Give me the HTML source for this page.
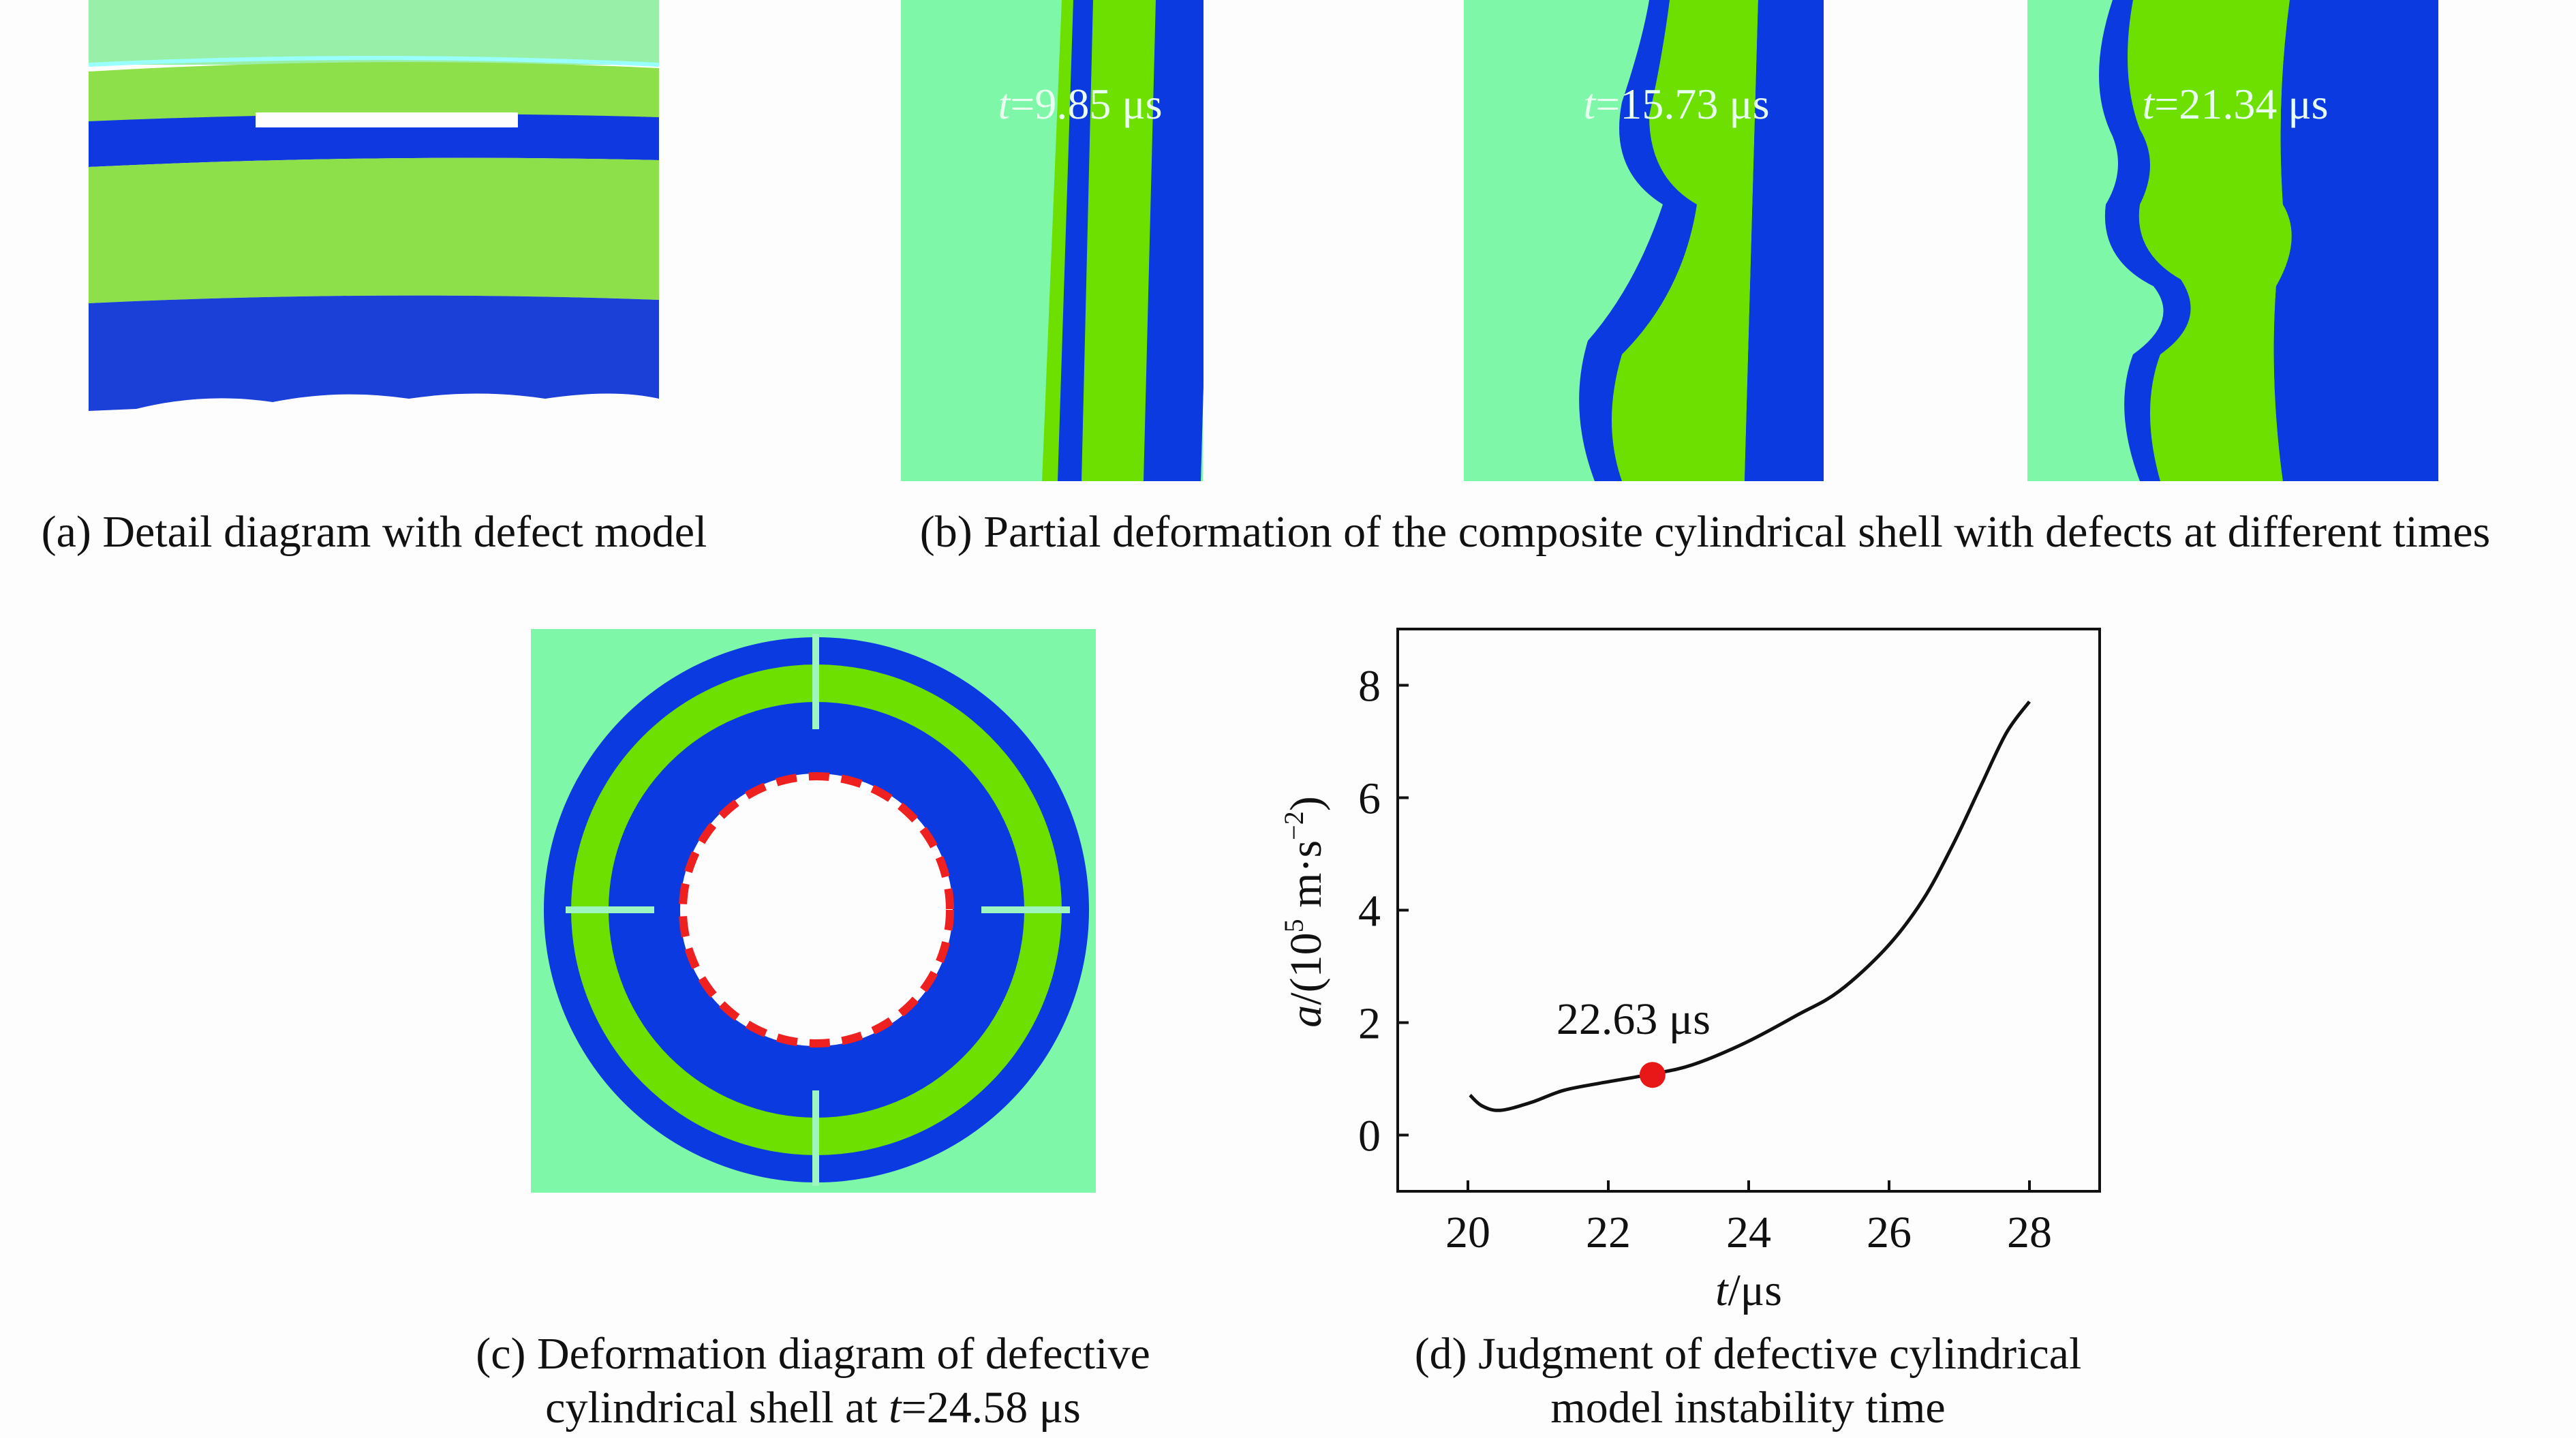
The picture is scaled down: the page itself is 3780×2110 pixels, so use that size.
<!DOCTYPE html>
<html><head><meta charset="utf-8"><style>
html,body{margin:0;padding:0;background:#fdfdfd;}
svg{display:block;}
text{font-family:"Liberation Serif",serif;fill:#111;}
</style></head><body>
<svg width="3780" height="2110" viewBox="0 0 3780 2110">
<rect x="0" y="0" width="3780" height="2110" fill="#fdfdfd"/>

<!-- (a) -->
<g>
<rect x="130" y="0" width="837" height="95" fill="#98f0a8"/>
<path d="M130 105 Q548 80 967 100 L967 180 L130 180 Z" fill="#8ee04a"/>
<path d="M130 95 Q548 75 967 95" stroke="#9ff" stroke-width="6" fill="none"/>
<path d="M130 178 Q548 160 967 172 L967 235 Q548 225 130 245 Z" fill="#1038e0"/>
<rect x="375" y="165" width="385" height="22" fill="#fdfdfd"/>
<path d="M130 245 Q548 225 967 235 L967 440 Q548 425 130 445 Z" fill="#8ee04a"/>
<path d="M130 445 Q548 425 967 440 L967 585 Q900 570 800 585 Q700 570 600 585 Q500 570 400 590 Q300 575 200 600 L130 603 Z" fill="#1a40d8"/>
</g>
<text x="549" y="802" font-size="66" text-anchor="middle">(a) Detail diagram with defect model</text>

<!-- (b) -->
<g>
<rect x="1322" y="0" width="443" height="706" fill="#7ef8a8"/>
<path d="M1558 0 L1782 0 L1762 706 L1529 706 Z" fill="#6de000"/>
<path d="M1575 0 L1604 0 L1587 706 L1552 706 Z" fill="#0a3ae0"/>
<path d="M1696 0 L1782 0 L1762 706 L1678 706 Z" fill="#0a3ae0"/>
<rect x="1766" y="0" width="20" height="706" fill="#fdfdfd"/>
<text x="1585" y="174" font-size="64" text-anchor="middle" style="fill:#e8fff0"><tspan font-style="italic" style="fill:#e8fff0">t</tspan>=9.85 μs</text>
</g>
<g>
<rect x="2148" y="0" width="528" height="706" fill="#7ef8a8"/>
<path d="M2420 0 L2676 0 L2676 706 L2340 706 Q2300 600 2330 500 Q2400 420 2440 300 Q2360 250 2380 150 Q2410 60 2420 0 Z" fill="#0a3ae0"/>
<path d="M2450 0 L2580 0 Q2570 350 2560 706 L2380 706 Q2350 620 2380 520 Q2470 430 2490 300 Q2420 260 2420 170 Q2440 80 2450 0 Z" fill="#6de000"/>
<path d="M2580 0 L2676 0 L2676 706 L2560 706 Q2570 350 2580 0 Z" fill="#0a3ae0"/>
<text x="2460" y="174" font-size="64" text-anchor="middle" style="fill:#e8fff0"><tspan font-style="italic" style="fill:#e8fff0">t</tspan>=15.73 μs</text>
</g>
<g>
<rect x="2975" y="0" width="612" height="706" fill="#7ef8a8"/>
<path d="M3100 0 L3587 0 L3587 706 L3140 706 Q3100 600 3130 520 Q3200 470 3160 420 Q3080 380 3090 300 Q3120 250 3100 200 Q3060 120 3100 0 Z" fill="#0a3ae0"/>
<path d="M3130 0 L3360 0 Q3340 150 3350 300 Q3380 350 3340 420 Q3330 560 3350 706 L3170 706 Q3140 600 3170 520 Q3240 470 3200 410 Q3130 370 3140 300 Q3170 240 3140 190 Q3110 110 3130 0 Z" fill="#6de000"/>
<path d="M3360 0 L3587 0 L3587 706 L3350 706 Q3330 560 3340 420 Q3380 350 3350 300 Q3340 150 3360 0 Z" fill="#0a3ae0"/>
<rect x="3578" y="0" width="30" height="706" fill="#fdfdfd"/>
<text x="3280" y="174" font-size="64" text-anchor="middle" style="fill:#e8fff0"><tspan font-style="italic" style="fill:#e8fff0">t</tspan>=21.34 μs</text>
</g>
<text x="2502" y="802" font-size="66" text-anchor="middle">(b) Partial deformation of the composite cylindrical shell with defects at different times</text>

<!-- (c) -->
<g>
<rect x="779" y="923" width="829" height="827" fill="#7ef8a8"/>
<circle cx="1198" cy="1335" r="400" fill="#0a3ae0"/>
<circle cx="1198" cy="1335" r="360" fill="#6de000"/>
<circle cx="1198" cy="1335" r="305" fill="#0a3ae0"/>
<circle cx="1198" cy="1335" r="200" fill="#fdfdfd"/>
<circle cx="1198" cy="1335" r="196" fill="none" stroke="#ee2020" stroke-width="12" stroke-dasharray="30 18"/>
<rect x="1192" y="930" width="10" height="140" fill="#9ff5c0"/>
<rect x="1192" y="1600" width="10" height="140" fill="#9ff5c0"/>
<rect x="830" y="1330" width="130" height="10" fill="#9ff5c0"/>
<rect x="1440" y="1330" width="130" height="10" fill="#9ff5c0"/>
</g>
<text x="1193" y="2008" font-size="66" text-anchor="middle">(c) Deformation diagram of defective</text>
<text x="1193" y="2087" font-size="66" text-anchor="middle">cylindrical shell at <tspan font-style="italic">t</tspan>=24.58 μs</text>

<!-- (d) chart -->
<g id="chart"></g>
<text x="2565" y="2008" font-size="66" text-anchor="middle">(d) Judgment of defective cylindrical</text>
<text x="2565" y="2087" font-size="66" text-anchor="middle">model instability time</text>
</svg>
<script>
const xTicks = [20, 22, 24, 26, 28];
const yTicks = [0, 2, 4, 6, 8];
const tValues = [20.03, 20.2, 20.46, 20.9, 21.35, 21.87, 22.6, 23.2, 23.95, 24.7, 25.29, 25.96, 26.48, 26.92, 27.3, 27.67, 28.0];
const aValues = [0.71, 0.52, 0.44, 0.58, 0.79, 0.92, 1.08, 1.25, 1.64, 2.14, 2.56, 3.33, 4.18, 5.19, 6.19, 7.15, 7.71];
const markT = [22.63];
const markA = [1.07];
const markLabel = ["22.63 μs"];

const NS = "http://www.w3.org/2000/svg";
const L = 2051, R = 3081, T = 923, B = 1748;
const xMin = 19, xMax = 29, yMin = -1, yMax = 9;
function sx(v){ return L + (v - xMin) / (xMax - xMin) * (R - L); }
function sy(v){ return B - (v - yMin) / (yMax - yMin) * (B - T); }
const g = document.getElementById('chart');
function mk(tag, attrs){ const e = document.createElementNS(NS, tag); for (const k in attrs) e.setAttribute(k, attrs[k]); g.appendChild(e); return e; }

const frame = mk('rect', {x:L, y:T, width:R-L, height:B-T, fill:'none', stroke:'#111', 'stroke-width':4});



xTicks.forEach(v => {
  const tk = mk('line', {x1:sx(v), x2:sx(v), y1:B, y2:B-16, stroke:'#111', 'stroke-width':4});
  
  
  const lb = mk('text', {x:sx(v), y:B+82, 'font-size':66, 'text-anchor':'middle'});
  lb.textContent = v;
  
  
});
yTicks.forEach(v => {
  const tk = mk('line', {x1:L, x2:L+16, y1:sy(v), y2:sy(v), stroke:'#111', 'stroke-width':4});
  
  
  const lb = mk('text', {x:L-25, y:sy(v)+23, 'font-size':66, 'text-anchor':'end'});
  lb.textContent = v;
  
  
});

const pts = tValues.map((t,i) => [sx(t), sy(aValues[i])]);
let d = 'M' + pts[0][0] + ' ' + pts[0][1];
for (let i = 0; i < pts.length - 1; i++) {
  const p0 = pts[Math.max(0,i-1)], p1 = pts[i], p2 = pts[i+1], p3 = pts[Math.min(pts.length-1,i+2)];
  const c1x = p1[0] + (p2[0]-p0[0])/6, c1y = p1[1] + (p2[1]-p0[1])/6;
  const c2x = p2[0] - (p3[0]-p1[0])/6, c2y = p2[1] - (p3[1]-p1[1])/6;
  d += ' C' + c1x + ' ' + c1y + ' ' + c2x + ' ' + c2y + ' ' + p2[0] + ' ' + p2[1];
}
const line = mk('path', {d:d, fill:'none', stroke:'#111', 'stroke-width':5});



markT.forEach((t,i) => {
  const c = mk('circle', {cx:sx(t), cy:sy(markA[i]), r:19, fill:'#e81818'});
  
  
  const lb = mk('text', {x:sx(t)-28, y:sy(markA[i])-60, 'font-size':66, 'text-anchor':'middle'});
  lb.textContent = markLabel[i];
  
  
});

const xl = mk('text', {x:(L+R)/2, y:1915, 'font-size':66, 'text-anchor':'middle'});
xl.innerHTML = '<tspan font-style="italic">t</tspan>/μs';


const yl = mk('text', {x:0, y:0, 'font-size':66, 'text-anchor':'middle', transform:'translate(1938 1338) rotate(-90)'});
yl.innerHTML = '<tspan font-style="italic">a</tspan>/(10<tspan font-size="40" dy="-26">5</tspan><tspan dy="26"> m·s</tspan><tspan font-size="40" dy="-26">−2</tspan><tspan dy="26">)</tspan>';


</script>
</body></html>
